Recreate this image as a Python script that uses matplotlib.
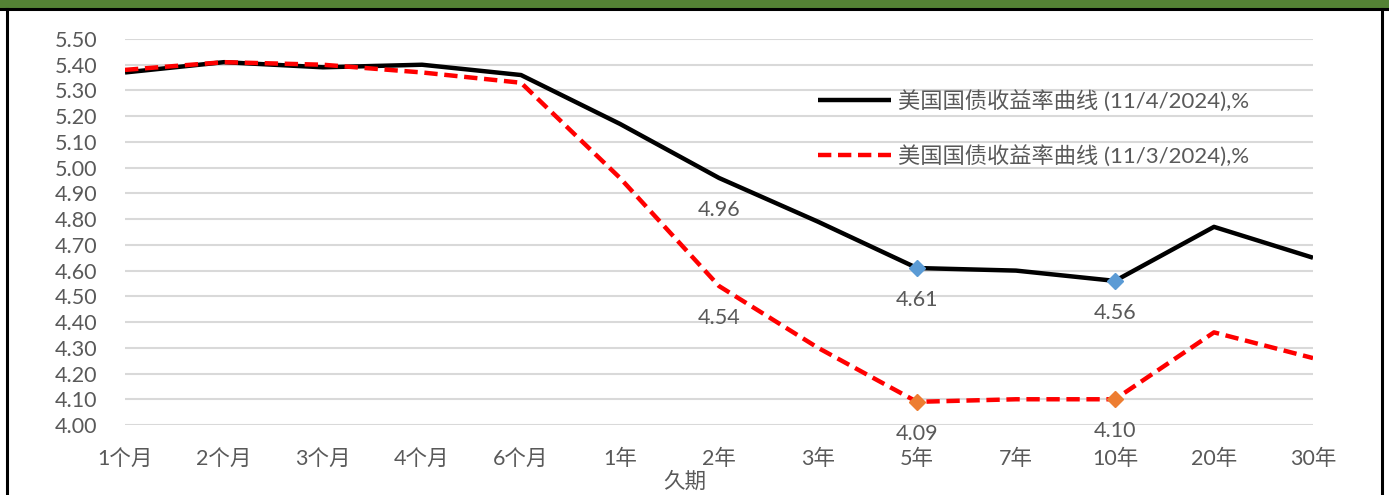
import matplotlib
matplotlib.use('Agg')
import matplotlib.pyplot as plt
from matplotlib.patches import Rectangle
from matplotlib.lines import Line2D

plt.rcParams['font.family'] = ['Lato', 'Noto Sans CJK SC', 'DejaVu Sans']

# Treasury yield curve data
tenors = ['1个月', '2个月', '3个月', '4个月', '6个月', '1年', '2年', '3年',
          '5年', '7年', '10年', '20年', '30年']
yields_nov4 = [5.37, 5.41, 5.39, 5.40, 5.36, 5.17, 4.96, 4.79, 4.61, 4.60, 4.56, 4.77, 4.65]
yields_nov3 = [5.38, 5.41, 5.40, 5.37, 5.33, 4.96, 4.54, 4.30, 4.09, 4.10, 4.10, 4.36, 4.26]
label_nov4 = '美国国债收益率曲线 (11/4/2024),%'
label_nov3 = '美国国债收益率曲线 (11/3/2024),%'
labeled_tenors = ['2年', '5年', '10年']
marked_tenors = ['5年', '10年']
yticks = [4.00, 4.10, 4.20, 4.30, 4.40, 4.50, 4.60, 4.70, 4.80, 4.90,
          5.00, 5.10, 5.20, 5.30, 5.40, 5.50]

gray = '#595959'
fs = 15.5

fig = plt.figure(figsize=(13.89, 4.95), dpi=100)

# green header band and black frame
fig.patches.append(Rectangle((0, 1 - 8 / 495), 1, 8 / 495, transform=fig.transFigure,
                             facecolor='#548235', edgecolor='none', zorder=0))
fig.add_artist(Line2D([0, 1], [1 - 9 / 495] * 2, transform=fig.transFigure, color='black', lw=2.2))
fig.add_artist(Line2D([7.5 / 1389] * 2, [0, 1 - 9 / 495], transform=fig.transFigure, color='black', lw=2.2))
fig.add_artist(Line2D([1382 / 1389] * 2, [0, 1 - 9 / 495], transform=fig.transFigure, color='black', lw=2.2))

ax = fig.add_axes([125 / 1389, 1 - 425 / 495, (1313 - 125) / 1389, (425 - 39) / 495])
x = list(range(len(tenors)))

ax.plot(x, yields_nov4, color='black', lw=3.2, solid_capstyle='butt', zorder=3, label=label_nov4)
ax.plot(x, yields_nov3, color='#FF0000', lw=3.2, dashes=(3.0, 1.5), dash_capstyle='butt',
        zorder=4, label=label_nov3)

for t in marked_tenors:
    i = tenors.index(t)
    ax.plot(i, yields_nov4[i], marker='D', ms=8.5, color='#5B9BD5', mec='#5B9BD5', zorder=5)
    ax.plot(i, yields_nov3[i], marker='D', ms=8.5, color='#ED7D31', mec='#ED7D31', zorder=5)

for t in labeled_tenors:
    i = tenors.index(t)
    for v in (yields_nov4[i], yields_nov3[i]):
        ax.annotate(f'{v:.2f}', (i, v), xytext=(0, -23), textcoords='offset points',
                    ha='center', va='center', fontsize=fs, color=gray, zorder=6)

ax.set_xlim(0, len(tenors) - 1)
ax.set_ylim(4.0, 5.5)
ax.set_yticks(yticks)
ax.set_yticklabels([f'{v:.2f}' for v in yticks])
ax.set_xticks(x)
ax.set_xticklabels(tenors)
ax.tick_params(axis='both', length=0, labelsize=fs, labelcolor=gray)
ax.tick_params(axis='y', pad=20)
ax.tick_params(axis='x', pad=17)
ax.grid(axis='y', color='#D9D9D9', lw=1.5)
ax.set_axisbelow(True)
for s in ax.spines.values():
    s.set_visible(False)

fig.text(685 / 1389, 1 - 482 / 495, '久期', ha='center', va='center', fontsize=fs, color=gray)

leg = ax.legend(loc='center left', bbox_to_anchor=(818 / 1389, 1 - 128.5 / 495),
                bbox_transform=fig.transFigure, frameon=False, fontsize=16,
                handlelength=3.3, handletextpad=0.3, labelspacing=1.5,
                borderpad=0, borderaxespad=0)
for txt in leg.get_texts():
    txt.set_color(gray)

fig.savefig('out.png', dpi=100)
